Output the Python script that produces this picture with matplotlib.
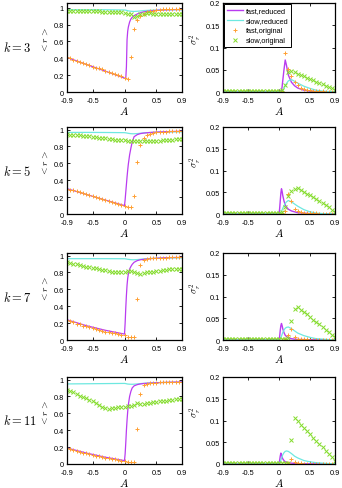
import numpy as np
import matplotlib
matplotlib.use("Agg")
import matplotlib.pyplot as plt

plt.rcParams['font.family'] = ['Liberation Sans', 'DejaVu Sans']
plt.rcParams['mathtext.fontset'] = 'cm'

k_values = [3, 5, 7, 11]

# markers (original model) sampled every 0.05
mk_x = np.round(np.linspace(-0.9, 0.9, 37), 2)
# lines (reduced model)
line_x = [-0.9, -0.6, -0.3, 0.0, 0.01, 0.02, 0.03, 0.04, 0.05, 0.06, 0.08, 0.1,
          0.12, 0.15, 0.2, 0.25, 0.3, 0.4, 0.5, 0.6, 0.7, 0.8, 0.9]

mean_fast_red = [
    [0.41, 0.328, 0.247, 0.165, 0.163, 0.16, 0.30, 0.62, 0.72, 0.77, 0.83, 0.865,
     0.885, 0.905, 0.925, 0.94, 0.95, 0.96, 0.968, 0.972, 0.975, 0.977, 0.978],
    [0.30, 0.232, 0.165, 0.10, 0.17, 0.26, 0.35, 0.44, 0.52, 0.59, 0.70, 0.78,
     0.85, 0.915, 0.94, 0.952, 0.958, 0.965, 0.97, 0.973, 0.976, 0.978, 0.98],
    [0.24, 0.17, 0.115, 0.07, 0.2, 0.38, 0.53, 0.65, 0.73, 0.78, 0.84, 0.87,
     0.895, 0.92, 0.94, 0.95, 0.955, 0.963, 0.968, 0.972, 0.975, 0.977, 0.978],
    [0.19, 0.13, 0.08, 0.04, 0.12, 0.25, 0.40, 0.52, 0.62, 0.70, 0.80, 0.86,
     0.90, 0.925, 0.94, 0.948, 0.953, 0.958, 0.962, 0.965, 0.968, 0.97, 0.972],
]
mean_slow_red = [
    [0.975, 0.975, 0.975, 0.972, 0.971, 0.97, 0.968, 0.966, 0.964, 0.962, 0.959, 0.957,
     0.956, 0.955, 0.957, 0.961, 0.965, 0.969, 0.971, 0.973, 0.974, 0.975, 0.975],
    [0.966, 0.966, 0.965, 0.963, 0.962, 0.961, 0.96, 0.958, 0.957, 0.955, 0.953, 0.951,
     0.95, 0.95, 0.952, 0.956, 0.96, 0.965, 0.968, 0.97, 0.971, 0.972, 0.972],
    [0.963, 0.963, 0.963, 0.962, 0.961, 0.96, 0.959, 0.957, 0.956, 0.955, 0.953, 0.951,
     0.95, 0.95, 0.952, 0.956, 0.96, 0.965, 0.968, 0.97, 0.971, 0.972, 0.972],
    [0.948, 0.95, 0.952, 0.954, 0.953, 0.952, 0.95, 0.948, 0.947, 0.946, 0.945, 0.944,
     0.944, 0.945, 0.948, 0.952, 0.955, 0.96, 0.963, 0.965, 0.966, 0.967, 0.968],
]
mean_fast_orig = [
    [0.41, 0.40, 0.38, 0.37, 0.36, 0.34, 0.33, 0.32, 0.30, 0.29, 0.28, 0.27, 0.25,
     0.24, 0.23, 0.21, 0.20, 0.19, 0.17, 0.155, 0.42, 0.75, 0.85, 0.90, 0.93, 0.95,
     0.96, 0.965, 0.97, 0.975, 0.98, 0.98, 0.98, 0.98, 0.98, 0.98, 0.98],
    [0.30, 0.29, 0.28, 0.27, 0.255, 0.245, 0.235, 0.22, 0.21, 0.20, 0.19, 0.18, 0.165,
     0.155, 0.145, 0.135, 0.12, 0.11, 0.095, 0.08, 0.08, 0.21, 0.62, 0.82, 0.90, 0.93,
     0.95, 0.96, 0.965, 0.97, 0.975, 0.975, 0.98, 0.98, 0.98, 0.985, 0.985],
    [0.24, 0.225, 0.21, 0.195, 0.185, 0.17, 0.16, 0.15, 0.14, 0.13, 0.12, 0.11, 0.10,
     0.095, 0.085, 0.08, 0.07, 0.065, 0.055, 0.04, 0.04, 0.04, 0.48, 0.89, 0.95, 0.96,
     0.965, 0.97, 0.97, 0.975, 0.975, 0.975, 0.98, 0.98, 0.98, 0.98, 0.98],
    [0.19, 0.175, 0.165, 0.155, 0.145, 0.135, 0.125, 0.115, 0.11, 0.10, 0.09, 0.085, 0.075,
     0.07, 0.06, 0.055, 0.045, 0.04, 0.03, 0.02, 0.02, 0.02, 0.42, 0.83, 0.93, 0.95,
     0.955, 0.96, 0.96, 0.965, 0.965, 0.97, 0.97, 0.97, 0.975, 0.975, 0.975],
]
mean_slow_orig = [
    [0.96, 0.96, 0.96, 0.96, 0.96, 0.955, 0.955, 0.955, 0.955, 0.955, 0.955, 0.95, 0.95,
     0.95, 0.95, 0.95, 0.95, 0.945, 0.94, 0.93, 0.92, 0.89, 0.90, 0.92, 0.93, 0.935,
     0.935, 0.93, 0.93, 0.93, 0.925, 0.925, 0.925, 0.925, 0.92, 0.92, 0.92],
    [0.945, 0.94, 0.935, 0.93, 0.93, 0.925, 0.92, 0.92, 0.915, 0.91, 0.905, 0.90, 0.895,
     0.89, 0.885, 0.88, 0.88, 0.875, 0.875, 0.87, 0.87, 0.865, 0.865, 0.865, 0.865, 0.865,
     0.865, 0.87, 0.87, 0.87, 0.875, 0.875, 0.88, 0.88, 0.885, 0.885, 0.89],
    [0.92, 0.91, 0.905, 0.90, 0.89, 0.88, 0.87, 0.86, 0.855, 0.85, 0.84, 0.83, 0.825,
     0.82, 0.81, 0.81, 0.805, 0.805, 0.81, 0.82, 0.815, 0.80, 0.79, 0.78, 0.79, 0.80,
     0.805, 0.81, 0.815, 0.82, 0.825, 0.83, 0.835, 0.835, 0.84, 0.84, 0.845],
    [0.88, 0.87, 0.85, 0.83, 0.81, 0.79, 0.78, 0.76, 0.74, 0.72, 0.70, 0.68, 0.66,
     0.655, 0.66, 0.665, 0.67, 0.675, 0.68, 0.69, 0.69, 0.70, 0.72, 0.71, 0.715, 0.72,
     0.725, 0.73, 0.735, 0.74, 0.745, 0.75, 0.755, 0.76, 0.765, 0.77, 0.775],
]

var_fast_red = [
    [0, 0, 0, 0, 0, 0, 0, 0.003, 0.012, 0.025, 0.05, 0.072,
     0.06, 0.038, 0.022, 0.014, 0.009, 0.004, 0.002, 0.001, 0.0005, 0.0003, 0.0002],
    [0, 0, 0, 0, 0.012, 0.03, 0.048, 0.058, 0.052, 0.043, 0.03, 0.021,
     0.016, 0.011, 0.007, 0.005, 0.003, 0.002, 0.001, 0.0005, 0.0003, 0.0002, 0.0001],
    [0, 0, 0, 0, 0.008, 0.022, 0.033, 0.038, 0.033, 0.026, 0.017, 0.011,
     0.008, 0.005, 0.003, 0.002, 0.0015, 0.001, 0.0005, 0.0003, 0.0002, 0.0001, 0.0001],
    [0, 0, 0, 0, 0.008, 0.018, 0.025, 0.021, 0.016, 0.012, 0.008, 0.005,
     0.004, 0.003, 0.002, 0.0015, 0.001, 0.0005, 0.0003, 0.0002, 0.0001, 0.0001, 0.0001],
]
var_slow_red = [
    [0, 0, 0, 0, 0, 0, 0, 0, 0.001, 0.003, 0.008, 0.014,
     0.019, 0.025, 0.028, 0.024, 0.02, 0.013, 0.008, 0.004, 0.002, 0.001, 0.0005],
    [0, 0, 0, 0, 0, 0.001, 0.003, 0.006, 0.009, 0.013, 0.019, 0.024,
     0.028, 0.031, 0.028, 0.023, 0.018, 0.01, 0.005, 0.002, 0.001, 0.0005, 0.0002],
    [0, 0, 0, 0, 0.001, 0.003, 0.006, 0.009, 0.013, 0.017, 0.023, 0.027,
     0.029, 0.03, 0.026, 0.021, 0.016, 0.01, 0.006, 0.003, 0.002, 0.001, 0.0005],
    [0, 0, 0, 0, 0.002, 0.005, 0.009, 0.013, 0.017, 0.021, 0.026, 0.029,
     0.03, 0.029, 0.024, 0.018, 0.014, 0.008, 0.005, 0.003, 0.002, 0.001, 0.0005],
]
var_fast_orig = [
    [0.001] * 19 + [0.003, 0.087, 0.052, 0.035, 0.022, 0.015, 0.01, 0.007, 0.005,
                    0.004, 0.003, 0.002, 0.002, 0.002, 0.001, 0.001, 0.001, 0.001],
    [0.001] * 19 + [0.002, 0.008, 0.047, 0.031, 0.012, 0.006, 0.004, 0.003, 0.002,
                    0.002, 0.002, 0.002, 0.001, 0.001, 0.001, 0.001, 0.001, 0.001],
    [0.001] * 19 + [0.001, 0.002, 0.012, 0.025, 0.006, 0.003, 0.002, 0.002, 0.002,
                    0.001, 0.001, 0.001, 0.001, 0.001, 0.001, 0.001, 0.001, 0.001],
    [0.001] * 19 + [0.001, 0.001, 0.002, 0.012, 0.004, 0.002, 0.002, 0.001, 0.001,
                    0.001, 0.001, 0.001, 0.001, 0.001, 0.001, 0.001, 0.001, 0.001],
]
var_slow_orig = [
    [0.002] * 19 + [0.004, 0.015, 0.046, 0.047, 0.044, 0.041, 0.038, 0.035, 0.032,
                    0.029, 0.026, 0.023, 0.02, 0.017, 0.014, 0.011, 0.008, 0.004],
    [0.002] * 19 + [0.004, 0.016, 0.042, 0.054, 0.057, 0.059, 0.055, 0.051, 0.047,
                    0.043, 0.038, 0.034, 0.029, 0.025, 0.02, 0.015, 0.01, 0.005],
    [0.002] * 19 + [0.002, 0.002, 0.005, 0.043, 0.072, 0.076, 0.07, 0.065, 0.059,
                    0.053, 0.047, 0.041, 0.036, 0.03, 0.024, 0.018, 0.012, 0.006],
    [0.002] * 19 + [0.002, 0.002, 0.003, 0.055, 0.105, 0.099, 0.09, 0.083, 0.075,
                    0.068, 0.06, 0.053, 0.045, 0.038, 0.03, 0.023, 0.015, 0.008],
]

x_ticks = [-0.9, -0.5, 0, 0.5, 0.9]
x_ticklabels = ['-0.9', '-0.5', '0', '0.5', '0.9']
r_ticks = [0, 0.2, 0.4, 0.6, 0.8, 1]
r_ticklabels = ['0', '0.2', '0.4', '0.6', '0.8', '1']
s_ticks = [0, 0.05, 0.1, 0.15, 0.2]
s_ticklabels = ['0', '0.05', '0.1', '0.15', '0.2']
r_top = [1.055, 1.03, 1.03, 1.03]

c_fast_red = '#b93cf0'
c_slow_red = '#6ee8e0'
c_fast_orig = '#ffa033'
c_slow_orig = '#84dc2c'

row_top_px = [4, 128, 254, 378]
row_bot_px = [93, 215, 341, 465]
W, H = 342, 489

fig = plt.figure(figsize=(W / 100, H / 100), dpi=100)


def style_axes(ax):
    ax.tick_params(direction='in', top=True, right=True, length=2.5, width=0.6,
                   labelsize=5.3)
    ax.tick_params(axis='x', pad=3.5)
    ax.tick_params(axis='y', pad=2.5)
    for sp in ax.spines.values():
        sp.set_linewidth(0.9)
    ax.set_xlim(-0.9, 0.9)
    ax.set_xticks(x_ticks)
    ax.set_xticklabels(x_ticklabels)
    ax.set_xlabel('$A$', fontsize=8, labelpad=0)


for i, k in enumerate(k_values):
    bottom = 1 - row_bot_px[i] / H
    height = (row_bot_px[i] - row_top_px[i]) / H

    axl = fig.add_axes([67 / W, bottom, 115 / W, height])
    axl.plot(line_x, mean_slow_red[i], color=c_slow_red, lw=0.9)
    axl.plot(line_x, mean_fast_red[i], color=c_fast_red, lw=0.9)
    axl.plot(mk_x, mean_fast_orig[i], '+', color=c_fast_orig, ms=3.2, mew=0.7)
    axl.plot(mk_x, mean_slow_orig[i], 'x', color=c_slow_orig, ms=2.6, mew=0.7)
    style_axes(axl)
    axl.set_ylim(0, r_top[i])
    axl.set_yticks(r_ticks)
    axl.set_yticklabels(r_ticklabels)
    axl.set_ylabel('$<r>$', fontsize=7)
    axl.yaxis.set_label_coords(-0.15, 0.6)

    axr = fig.add_axes([223 / W, bottom, 112 / W, height])
    axr.plot(line_x, var_fast_red[i], color=c_fast_red, lw=1.0, label='fast,reduced')
    axr.plot(line_x, var_slow_red[i], color=c_slow_red, lw=0.9, label='slow,reduced')
    axr.plot(mk_x, var_fast_orig[i], '+', color=c_fast_orig, ms=3.2, mew=0.7,
             label='fast,original')
    axr.plot(mk_x, var_slow_orig[i], 'x', color=c_slow_orig, ms=2.6, mew=0.7,
             label='slow,original')
    style_axes(axr)
    axr.set_ylim(0, 0.2)
    axr.set_yticks(s_ticks)
    axr.set_yticklabels(s_ticklabels)
    axr.set_ylabel(r'$\sigma_r^2$', fontsize=7)
    axr.yaxis.set_label_coords(-0.17, 0.6)

    fig.text(3 / W, bottom + height / 2, '$k = %d$' % k, fontsize=9, va='center')

    if i == 0:
        leg = axr.legend(loc='upper left', fontsize=5.3, numpoints=1, handlelength=2.2,
                         handletextpad=0.4, borderpad=0.35, labelspacing=0.4,
                         borderaxespad=0.2, fancybox=False, framealpha=1)
        leg.get_frame().set_edgecolor('black')
        leg.get_frame().set_linewidth(0.7)

fig.savefig('out.png', dpi=100)
